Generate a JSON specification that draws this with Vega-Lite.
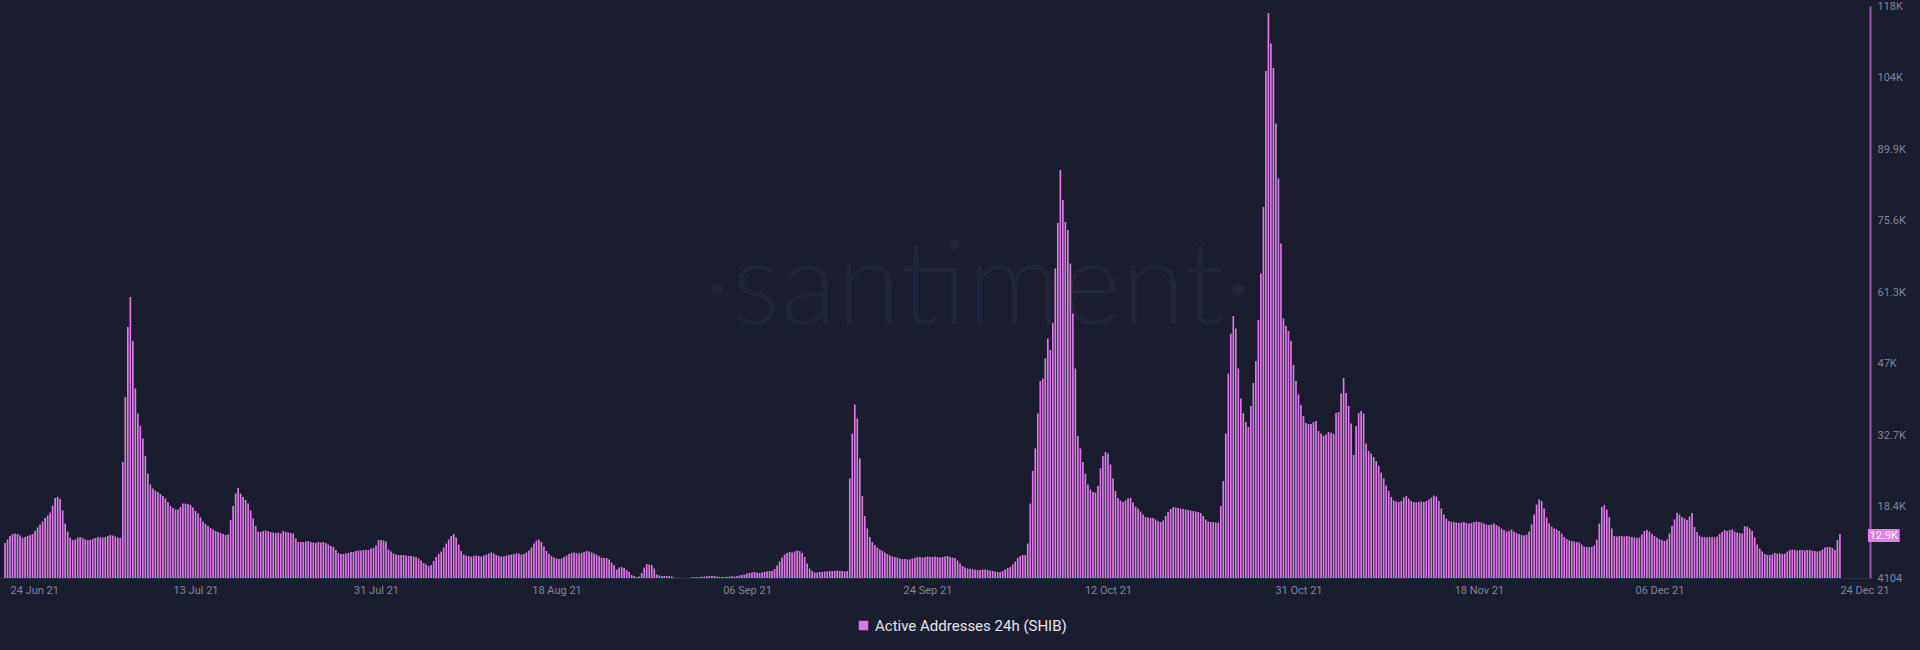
{
"$schema": "https://vega.github.io/schema/vega-lite/v6.json",
"width": 1870,
"height": 572,
"autosize": "none",
"padding": {"left": 0, "top": 6, "right": 50, "bottom": 72},
"background": "#1a1d2d",
"config": {"view": {"stroke": null}, "font": "Roboto"},
"data": {"values": [
{"t":"2021-06-24T00:00","v":11100},{"t":"2021-06-24T06:00","v":11800},{"t":"2021-06-24T12:00","v":12500},{"t":"2021-06-24T18:00","v":12900},
{"t":"2021-06-25T00:00","v":13000},{"t":"2021-06-25T06:00","v":12900},{"t":"2021-06-25T12:00","v":12600},{"t":"2021-06-25T18:00","v":12100},
{"t":"2021-06-26T00:00","v":12300},{"t":"2021-06-26T06:00","v":12500},{"t":"2021-06-26T12:00","v":12700},{"t":"2021-06-26T18:00","v":12900},
{"t":"2021-06-27T00:00","v":13500},{"t":"2021-06-27T06:00","v":14200},{"t":"2021-06-27T12:00","v":14800},{"t":"2021-06-27T18:00","v":15400},
{"t":"2021-06-28T00:00","v":16100},{"t":"2021-06-28T06:00","v":16600},{"t":"2021-06-28T12:00","v":17200},{"t":"2021-06-28T18:00","v":18600},
{"t":"2021-06-29T00:00","v":20100},{"t":"2021-06-29T06:00","v":20300},{"t":"2021-06-29T12:00","v":19900},{"t":"2021-06-29T18:00","v":17600},
{"t":"2021-06-30T00:00","v":15000},{"t":"2021-06-30T06:00","v":13400},{"t":"2021-06-30T12:00","v":12200},{"t":"2021-06-30T18:00","v":11700},
{"t":"2021-07-01T00:00","v":11800},{"t":"2021-07-01T06:00","v":12200},{"t":"2021-07-01T12:00","v":12300},{"t":"2021-07-01T18:00","v":12100},
{"t":"2021-07-02T00:00","v":11800},{"t":"2021-07-02T06:00","v":11700},{"t":"2021-07-02T12:00","v":11700},{"t":"2021-07-02T18:00","v":11900},
{"t":"2021-07-03T00:00","v":12100},{"t":"2021-07-03T06:00","v":12300},{"t":"2021-07-03T12:00","v":12200},{"t":"2021-07-03T18:00","v":12200},
{"t":"2021-07-04T00:00","v":12300},{"t":"2021-07-04T06:00","v":12500},{"t":"2021-07-04T12:00","v":12700},{"t":"2021-07-04T18:00","v":12600},
{"t":"2021-07-05T00:00","v":12400},{"t":"2021-07-05T06:00","v":12200},{"t":"2021-07-05T12:00","v":12100},{"t":"2021-07-05T18:00","v":27300},
{"t":"2021-07-06T00:00","v":40300},{"t":"2021-07-06T06:00","v":54300},{"t":"2021-07-06T12:00","v":60300},{"t":"2021-07-06T18:00","v":51500},
{"t":"2021-07-07T00:00","v":42000},{"t":"2021-07-07T06:00","v":37000},{"t":"2021-07-07T12:00","v":34500},{"t":"2021-07-07T18:00","v":32000},
{"t":"2021-07-08T00:00","v":28500},{"t":"2021-07-08T06:00","v":25000},{"t":"2021-07-08T12:00","v":22800},{"t":"2021-07-08T18:00","v":22000},
{"t":"2021-07-09T00:00","v":21600},{"t":"2021-07-09T06:00","v":21300},{"t":"2021-07-09T12:00","v":20900},{"t":"2021-07-09T18:00","v":20500},
{"t":"2021-07-10T00:00","v":20000},{"t":"2021-07-10T06:00","v":19300},{"t":"2021-07-10T12:00","v":18500},{"t":"2021-07-10T18:00","v":18100},
{"t":"2021-07-11T00:00","v":17800},{"t":"2021-07-11T06:00","v":17800},{"t":"2021-07-11T12:00","v":18300},{"t":"2021-07-11T18:00","v":19000},
{"t":"2021-07-12T00:00","v":19000},{"t":"2021-07-12T06:00","v":18900},{"t":"2021-07-12T12:00","v":18700},{"t":"2021-07-12T18:00","v":18200},
{"t":"2021-07-13T00:00","v":17500},{"t":"2021-07-13T06:00","v":17000},{"t":"2021-07-13T12:00","v":16200},{"t":"2021-07-13T18:00","v":15400},
{"t":"2021-07-14T00:00","v":14900},{"t":"2021-07-14T06:00","v":14500},{"t":"2021-07-14T12:00","v":14100},{"t":"2021-07-14T18:00","v":13800},
{"t":"2021-07-15T00:00","v":13500},{"t":"2021-07-15T06:00","v":13300},{"t":"2021-07-15T12:00","v":13100},{"t":"2021-07-15T18:00","v":12900},
{"t":"2021-07-16T00:00","v":12700},{"t":"2021-07-16T06:00","v":12800},{"t":"2021-07-16T12:00","v":15700},{"t":"2021-07-16T18:00","v":18500},
{"t":"2021-07-17T00:00","v":21000},{"t":"2021-07-17T06:00","v":22100},{"t":"2021-07-17T12:00","v":21000},{"t":"2021-07-17T18:00","v":20300},
{"t":"2021-07-18T00:00","v":19700},{"t":"2021-07-18T06:00","v":19000},{"t":"2021-07-18T12:00","v":17600},{"t":"2021-07-18T18:00","v":16000},
{"t":"2021-07-19T00:00","v":14500},{"t":"2021-07-19T06:00","v":13400},{"t":"2021-07-19T12:00","v":13300},{"t":"2021-07-19T18:00","v":13500},
{"t":"2021-07-20T00:00","v":13600},{"t":"2021-07-20T06:00","v":13500},{"t":"2021-07-20T12:00","v":13300},{"t":"2021-07-20T18:00","v":13200},
{"t":"2021-07-21T00:00","v":13100},{"t":"2021-07-21T06:00","v":13200},{"t":"2021-07-21T12:00","v":13000},{"t":"2021-07-21T18:00","v":13500},
{"t":"2021-07-22T00:00","v":13300},{"t":"2021-07-22T06:00","v":13200},{"t":"2021-07-22T12:00","v":13100},{"t":"2021-07-22T18:00","v":13000},
{"t":"2021-07-23T00:00","v":12000},{"t":"2021-07-23T06:00","v":11300},{"t":"2021-07-23T12:00","v":11300},{"t":"2021-07-23T18:00","v":11300},
{"t":"2021-07-24T00:00","v":11400},{"t":"2021-07-24T06:00","v":11500},{"t":"2021-07-24T12:00","v":11300},{"t":"2021-07-24T18:00","v":11200},
{"t":"2021-07-25T00:00","v":11100},{"t":"2021-07-25T06:00","v":11300},{"t":"2021-07-25T12:00","v":11200},{"t":"2021-07-25T18:00","v":11300},
{"t":"2021-07-26T00:00","v":11100},{"t":"2021-07-26T06:00","v":10800},{"t":"2021-07-26T12:00","v":10500},{"t":"2021-07-26T18:00","v":10300},
{"t":"2021-07-27T00:00","v":9700},{"t":"2021-07-27T06:00","v":9100},{"t":"2021-07-27T12:00","v":8900},{"t":"2021-07-27T18:00","v":8900},
{"t":"2021-07-28T00:00","v":9000},{"t":"2021-07-28T06:00","v":9100},{"t":"2021-07-28T12:00","v":9300},{"t":"2021-07-28T18:00","v":9300},
{"t":"2021-07-29T00:00","v":9500},{"t":"2021-07-29T06:00","v":9600},{"t":"2021-07-29T12:00","v":9600},{"t":"2021-07-29T18:00","v":9700},
{"t":"2021-07-30T00:00","v":9700},{"t":"2021-07-30T06:00","v":9700},{"t":"2021-07-30T12:00","v":10000},{"t":"2021-07-30T18:00","v":10100},
{"t":"2021-07-31T00:00","v":10600},{"t":"2021-07-31T06:00","v":11700},{"t":"2021-07-31T12:00","v":11700},{"t":"2021-07-31T18:00","v":11600},
{"t":"2021-08-01T00:00","v":11400},{"t":"2021-08-01T06:00","v":9800},{"t":"2021-08-01T12:00","v":9400},{"t":"2021-08-01T18:00","v":9000},
{"t":"2021-08-02T00:00","v":8800},{"t":"2021-08-02T06:00","v":8700},{"t":"2021-08-02T12:00","v":8700},{"t":"2021-08-02T18:00","v":8700},
{"t":"2021-08-03T00:00","v":8600},{"t":"2021-08-03T06:00","v":8500},{"t":"2021-08-03T12:00","v":8500},{"t":"2021-08-03T18:00","v":8400},
{"t":"2021-08-04T00:00","v":8300},{"t":"2021-08-04T06:00","v":8000},{"t":"2021-08-04T12:00","v":7600},{"t":"2021-08-04T18:00","v":7100},
{"t":"2021-08-05T00:00","v":6800},{"t":"2021-08-05T06:00","v":6500},{"t":"2021-08-05T12:00","v":6700},{"t":"2021-08-05T18:00","v":7500},
{"t":"2021-08-06T00:00","v":8300},{"t":"2021-08-06T06:00","v":8900},{"t":"2021-08-06T12:00","v":9400},{"t":"2021-08-06T18:00","v":10200},
{"t":"2021-08-07T00:00","v":11000},{"t":"2021-08-07T06:00","v":11800},{"t":"2021-08-07T12:00","v":12500},{"t":"2021-08-07T18:00","v":12900},
{"t":"2021-08-08T00:00","v":12200},{"t":"2021-08-08T06:00","v":10800},{"t":"2021-08-08T12:00","v":9500},{"t":"2021-08-08T18:00","v":8800},
{"t":"2021-08-09T00:00","v":8600},{"t":"2021-08-09T06:00","v":8500},{"t":"2021-08-09T12:00","v":8400},{"t":"2021-08-09T18:00","v":8500},
{"t":"2021-08-10T00:00","v":8600},{"t":"2021-08-10T06:00","v":8500},{"t":"2021-08-10T12:00","v":8400},{"t":"2021-08-10T18:00","v":8600},
{"t":"2021-08-11T00:00","v":8800},{"t":"2021-08-11T06:00","v":9000},{"t":"2021-08-11T12:00","v":9200},{"t":"2021-08-11T18:00","v":9000},
{"t":"2021-08-12T00:00","v":8700},{"t":"2021-08-12T06:00","v":8500},{"t":"2021-08-12T12:00","v":8400},{"t":"2021-08-12T18:00","v":8400},
{"t":"2021-08-13T00:00","v":8600},{"t":"2021-08-13T06:00","v":8700},{"t":"2021-08-13T12:00","v":8800},{"t":"2021-08-13T18:00","v":8900},
{"t":"2021-08-14T00:00","v":9000},{"t":"2021-08-14T06:00","v":9000},{"t":"2021-08-14T12:00","v":8800},{"t":"2021-08-14T18:00","v":8900},
{"t":"2021-08-15T00:00","v":9200},{"t":"2021-08-15T06:00","v":9600},{"t":"2021-08-15T12:00","v":10200},{"t":"2021-08-15T18:00","v":11000},
{"t":"2021-08-16T00:00","v":11600},{"t":"2021-08-16T06:00","v":11800},{"t":"2021-08-16T12:00","v":11300},{"t":"2021-08-16T18:00","v":10400},
{"t":"2021-08-17T00:00","v":9500},{"t":"2021-08-17T06:00","v":8900},{"t":"2021-08-17T12:00","v":8500},{"t":"2021-08-17T18:00","v":8200},
{"t":"2021-08-18T00:00","v":8000},{"t":"2021-08-18T06:00","v":7900},{"t":"2021-08-18T12:00","v":8000},{"t":"2021-08-18T18:00","v":8300},
{"t":"2021-08-19T00:00","v":8600},{"t":"2021-08-19T06:00","v":8900},{"t":"2021-08-19T12:00","v":9100},{"t":"2021-08-19T18:00","v":9200},
{"t":"2021-08-20T00:00","v":9100},{"t":"2021-08-20T06:00","v":9000},{"t":"2021-08-20T12:00","v":9100},{"t":"2021-08-20T18:00","v":9300},
{"t":"2021-08-21T00:00","v":9500},{"t":"2021-08-21T06:00","v":9400},{"t":"2021-08-21T12:00","v":9200},{"t":"2021-08-21T18:00","v":9000},
{"t":"2021-08-22T00:00","v":8800},{"t":"2021-08-22T06:00","v":8500},{"t":"2021-08-22T12:00","v":8200},{"t":"2021-08-22T18:00","v":8100},
{"t":"2021-08-23T00:00","v":8100},{"t":"2021-08-23T06:00","v":7800},{"t":"2021-08-23T12:00","v":7200},{"t":"2021-08-23T18:00","v":6700},
{"t":"2021-08-24T00:00","v":5800},{"t":"2021-08-24T06:00","v":6200},{"t":"2021-08-24T12:00","v":6300},{"t":"2021-08-24T18:00","v":6100},
{"t":"2021-08-25T00:00","v":5700},{"t":"2021-08-25T06:00","v":5300},{"t":"2021-08-25T12:00","v":4700},{"t":"2021-08-25T18:00","v":4500},
{"t":"2021-08-26T00:00","v":4300},{"t":"2021-08-26T06:00","v":4400},{"t":"2021-08-26T12:00","v":5100},{"t":"2021-08-26T18:00","v":6200},
{"t":"2021-08-27T00:00","v":6900},{"t":"2021-08-27T06:00","v":6800},{"t":"2021-08-27T12:00","v":6700},{"t":"2021-08-27T18:00","v":6000},
{"t":"2021-08-28T00:00","v":4800},{"t":"2021-08-28T06:00","v":4600},{"t":"2021-08-28T12:00","v":4500},{"t":"2021-08-28T18:00","v":4500},
{"t":"2021-08-29T00:00","v":4500},{"t":"2021-08-29T06:00","v":4500},{"t":"2021-08-29T12:00","v":4400},{"t":"2021-08-29T18:00","v":4200},
{"t":"2021-08-30T00:00","v":4150},{"t":"2021-08-30T06:00","v":4150},{"t":"2021-08-30T12:00","v":4120},{"t":"2021-08-30T18:00","v":4110},
{"t":"2021-08-31T00:00","v":4120},{"t":"2021-08-31T06:00","v":4150},{"t":"2021-08-31T12:00","v":4250},{"t":"2021-08-31T18:00","v":4300},
{"t":"2021-09-01T00:00","v":4250},{"t":"2021-09-01T06:00","v":4300},{"t":"2021-09-01T12:00","v":4350},{"t":"2021-09-01T18:00","v":4400},
{"t":"2021-09-02T00:00","v":4450},{"t":"2021-09-02T06:00","v":4500},{"t":"2021-09-02T12:00","v":4550},{"t":"2021-09-02T18:00","v":4500},
{"t":"2021-09-03T00:00","v":4400},{"t":"2021-09-03T06:00","v":4350},{"t":"2021-09-03T12:00","v":4300},{"t":"2021-09-03T18:00","v":4300},
{"t":"2021-09-04T00:00","v":4350},{"t":"2021-09-04T06:00","v":4400},{"t":"2021-09-04T12:00","v":4450},{"t":"2021-09-04T18:00","v":4400},
{"t":"2021-09-05T00:00","v":4500},{"t":"2021-09-05T06:00","v":4600},{"t":"2021-09-05T12:00","v":4700},{"t":"2021-09-05T18:00","v":4800},
{"t":"2021-09-06T00:00","v":5000},{"t":"2021-09-06T06:00","v":5100},{"t":"2021-09-06T12:00","v":5200},{"t":"2021-09-06T18:00","v":5300},
{"t":"2021-09-07T00:00","v":5200},{"t":"2021-09-07T06:00","v":5100},{"t":"2021-09-07T12:00","v":5200},{"t":"2021-09-07T18:00","v":5300},
{"t":"2021-09-08T00:00","v":5400},{"t":"2021-09-08T06:00","v":5500},{"t":"2021-09-08T12:00","v":5500},{"t":"2021-09-08T18:00","v":5900},
{"t":"2021-09-09T00:00","v":6600},{"t":"2021-09-09T06:00","v":7400},{"t":"2021-09-09T12:00","v":8200},{"t":"2021-09-09T18:00","v":8800},
{"t":"2021-09-10T00:00","v":9100},{"t":"2021-09-10T06:00","v":9300},{"t":"2021-09-10T12:00","v":9200},{"t":"2021-09-10T18:00","v":9400},
{"t":"2021-09-11T00:00","v":9600},{"t":"2021-09-11T06:00","v":9500},{"t":"2021-09-11T12:00","v":9100},{"t":"2021-09-11T18:00","v":8300},
{"t":"2021-09-12T00:00","v":7000},{"t":"2021-09-12T06:00","v":6000},{"t":"2021-09-12T12:00","v":5500},{"t":"2021-09-12T18:00","v":5200},
{"t":"2021-09-13T00:00","v":5200},{"t":"2021-09-13T06:00","v":5300},{"t":"2021-09-13T12:00","v":5300},{"t":"2021-09-13T18:00","v":5400},
{"t":"2021-09-14T00:00","v":5400},{"t":"2021-09-14T06:00","v":5500},{"t":"2021-09-14T12:00","v":5500},{"t":"2021-09-14T18:00","v":5500},
{"t":"2021-09-15T00:00","v":5600},{"t":"2021-09-15T06:00","v":5500},{"t":"2021-09-15T12:00","v":5500},{"t":"2021-09-15T18:00","v":5400},
{"t":"2021-09-16T00:00","v":5500},{"t":"2021-09-16T06:00","v":24000},{"t":"2021-09-16T12:00","v":33000},{"t":"2021-09-16T18:00","v":38800},
{"t":"2021-09-17T00:00","v":36000},{"t":"2021-09-17T06:00","v":28000},{"t":"2021-09-17T12:00","v":20500},{"t":"2021-09-17T18:00","v":16500},
{"t":"2021-09-18T00:00","v":14000},{"t":"2021-09-18T06:00","v":12300},{"t":"2021-09-18T12:00","v":11300},{"t":"2021-09-18T18:00","v":10700},
{"t":"2021-09-19T00:00","v":10200},{"t":"2021-09-19T06:00","v":9800},{"t":"2021-09-19T12:00","v":9500},{"t":"2021-09-19T18:00","v":9200},
{"t":"2021-09-20T00:00","v":8900},{"t":"2021-09-20T06:00","v":8600},{"t":"2021-09-20T12:00","v":8400},{"t":"2021-09-20T18:00","v":8300},
{"t":"2021-09-21T00:00","v":8200},{"t":"2021-09-21T06:00","v":8000},{"t":"2021-09-21T12:00","v":7900},{"t":"2021-09-21T18:00","v":7900},
{"t":"2021-09-22T00:00","v":7800},{"t":"2021-09-22T06:00","v":7800},{"t":"2021-09-22T12:00","v":8000},{"t":"2021-09-22T18:00","v":8100},
{"t":"2021-09-23T00:00","v":8300},{"t":"2021-09-23T06:00","v":8300},{"t":"2021-09-23T12:00","v":8200},{"t":"2021-09-23T18:00","v":8300},
{"t":"2021-09-24T00:00","v":8400},{"t":"2021-09-24T06:00","v":8300},{"t":"2021-09-24T12:00","v":8300},{"t":"2021-09-24T18:00","v":8400},
{"t":"2021-09-25T00:00","v":8300},{"t":"2021-09-25T06:00","v":8200},{"t":"2021-09-25T12:00","v":8300},{"t":"2021-09-25T18:00","v":8400},
{"t":"2021-09-26T00:00","v":8500},{"t":"2021-09-26T06:00","v":8300},{"t":"2021-09-26T12:00","v":8200},{"t":"2021-09-26T18:00","v":8100},
{"t":"2021-09-27T00:00","v":7600},{"t":"2021-09-27T06:00","v":7000},{"t":"2021-09-27T12:00","v":6500},{"t":"2021-09-27T18:00","v":6200},
{"t":"2021-09-28T00:00","v":6000},{"t":"2021-09-28T06:00","v":5900},{"t":"2021-09-28T12:00","v":5800},{"t":"2021-09-28T18:00","v":5800},
{"t":"2021-09-29T00:00","v":5700},{"t":"2021-09-29T06:00","v":5700},{"t":"2021-09-29T12:00","v":5800},{"t":"2021-09-29T18:00","v":5800},
{"t":"2021-09-30T00:00","v":5700},{"t":"2021-09-30T06:00","v":5600},{"t":"2021-09-30T12:00","v":5500},{"t":"2021-09-30T18:00","v":5400},
{"t":"2021-10-01T00:00","v":5300},{"t":"2021-10-01T06:00","v":5300},{"t":"2021-10-01T12:00","v":5500},{"t":"2021-10-01T18:00","v":5800},
{"t":"2021-10-02T00:00","v":6100},{"t":"2021-10-02T06:00","v":6300},{"t":"2021-10-02T12:00","v":6800},{"t":"2021-10-02T18:00","v":7400},
{"t":"2021-10-03T00:00","v":8100},{"t":"2021-10-03T06:00","v":8500},{"t":"2021-10-03T12:00","v":8700},{"t":"2021-10-03T18:00","v":8700},
{"t":"2021-10-04T00:00","v":11000},{"t":"2021-10-04T06:00","v":19000},{"t":"2021-10-04T12:00","v":25500},{"t":"2021-10-04T18:00","v":30000},
{"t":"2021-10-05T00:00","v":37000},{"t":"2021-10-05T06:00","v":43500},{"t":"2021-10-05T12:00","v":44000},{"t":"2021-10-05T18:00","v":48000},
{"t":"2021-10-06T00:00","v":52000},{"t":"2021-10-06T06:00","v":49700},{"t":"2021-10-06T12:00","v":55100},{"t":"2021-10-06T18:00","v":66000},
{"t":"2021-10-07T00:00","v":75100},{"t":"2021-10-07T06:00","v":85700},{"t":"2021-10-07T12:00","v":79700},{"t":"2021-10-07T18:00","v":75300},
{"t":"2021-10-08T00:00","v":73700},{"t":"2021-10-08T06:00","v":67000},{"t":"2021-10-08T12:00","v":57000},{"t":"2021-10-08T18:00","v":46000},
{"t":"2021-10-09T00:00","v":32500},{"t":"2021-10-09T06:00","v":30000},{"t":"2021-10-09T12:00","v":27300},{"t":"2021-10-09T18:00","v":25000},
{"t":"2021-10-10T00:00","v":22800},{"t":"2021-10-10T06:00","v":21800},{"t":"2021-10-10T12:00","v":21300},{"t":"2021-10-10T18:00","v":21200},
{"t":"2021-10-11T00:00","v":22500},{"t":"2021-10-11T06:00","v":26000},{"t":"2021-10-11T12:00","v":28500},{"t":"2021-10-11T18:00","v":29300},
{"t":"2021-10-12T00:00","v":29000},{"t":"2021-10-12T06:00","v":26800},{"t":"2021-10-12T12:00","v":24000},{"t":"2021-10-12T18:00","v":21500},
{"t":"2021-10-13T00:00","v":20100},{"t":"2021-10-13T06:00","v":19600},{"t":"2021-10-13T12:00","v":19300},{"t":"2021-10-13T18:00","v":19600},
{"t":"2021-10-14T00:00","v":20000},{"t":"2021-10-14T06:00","v":20100},{"t":"2021-10-14T12:00","v":19200},{"t":"2021-10-14T18:00","v":18400},
{"t":"2021-10-15T00:00","v":18000},{"t":"2021-10-15T06:00","v":17400},{"t":"2021-10-15T12:00","v":16800},{"t":"2021-10-15T18:00","v":16300},
{"t":"2021-10-16T00:00","v":16200},{"t":"2021-10-16T06:00","v":16100},{"t":"2021-10-16T12:00","v":16100},{"t":"2021-10-16T18:00","v":15800},
{"t":"2021-10-17T00:00","v":15500},{"t":"2021-10-17T06:00","v":15300},{"t":"2021-10-17T12:00","v":15600},{"t":"2021-10-17T18:00","v":16500},
{"t":"2021-10-18T00:00","v":17300},{"t":"2021-10-18T06:00","v":17900},{"t":"2021-10-18T12:00","v":18300},{"t":"2021-10-18T18:00","v":18200},
{"t":"2021-10-19T00:00","v":18100},{"t":"2021-10-19T06:00","v":18000},{"t":"2021-10-19T12:00","v":17900},{"t":"2021-10-19T18:00","v":17800},
{"t":"2021-10-20T00:00","v":17700},{"t":"2021-10-20T06:00","v":17600},{"t":"2021-10-20T12:00","v":17500},{"t":"2021-10-20T18:00","v":17400},
{"t":"2021-10-21T00:00","v":17300},{"t":"2021-10-21T06:00","v":17100},{"t":"2021-10-21T12:00","v":16500},{"t":"2021-10-21T18:00","v":15800},
{"t":"2021-10-22T00:00","v":15400},{"t":"2021-10-22T06:00","v":15300},{"t":"2021-10-22T12:00","v":15300},{"t":"2021-10-22T18:00","v":15200},
{"t":"2021-10-23T00:00","v":15200},{"t":"2021-10-23T06:00","v":18500},{"t":"2021-10-23T12:00","v":23500},{"t":"2021-10-23T18:00","v":33000},
{"t":"2021-10-24T00:00","v":45000},{"t":"2021-10-24T06:00","v":53000},{"t":"2021-10-24T12:00","v":56500},{"t":"2021-10-24T18:00","v":54000},
{"t":"2021-10-25T00:00","v":46000},{"t":"2021-10-25T06:00","v":40000},{"t":"2021-10-25T12:00","v":37100},{"t":"2021-10-25T18:00","v":35300},
{"t":"2021-10-26T00:00","v":34300},{"t":"2021-10-26T06:00","v":38500},{"t":"2021-10-26T12:00","v":43100},{"t":"2021-10-26T18:00","v":47500},
{"t":"2021-10-27T00:00","v":55700},{"t":"2021-10-27T06:00","v":65000},{"t":"2021-10-27T12:00","v":78300},{"t":"2021-10-27T18:00","v":105500},
{"t":"2021-10-28T00:00","v":117100},{"t":"2021-10-28T06:00","v":111000},{"t":"2021-10-28T12:00","v":106100},{"t":"2021-10-28T18:00","v":95000},
{"t":"2021-10-29T00:00","v":84000},{"t":"2021-10-29T06:00","v":71000},{"t":"2021-10-29T12:00","v":56000},{"t":"2021-10-29T18:00","v":54500},
{"t":"2021-10-30T00:00","v":53500},{"t":"2021-10-30T06:00","v":51500},{"t":"2021-10-30T12:00","v":46700},{"t":"2021-10-30T18:00","v":43500},
{"t":"2021-10-31T00:00","v":40800},{"t":"2021-10-31T06:00","v":38700},{"t":"2021-10-31T12:00","v":36500},{"t":"2021-10-31T18:00","v":35100},
{"t":"2021-11-01T00:00","v":34900},{"t":"2021-11-01T06:00","v":34900},{"t":"2021-11-01T12:00","v":35300},{"t":"2021-11-01T18:00","v":35500},
{"t":"2021-11-02T00:00","v":33500},{"t":"2021-11-02T06:00","v":33000},{"t":"2021-11-02T12:00","v":32500},{"t":"2021-11-02T18:00","v":32800},
{"t":"2021-11-03T00:00","v":33300},{"t":"2021-11-03T06:00","v":33100},{"t":"2021-11-03T12:00","v":32900},{"t":"2021-11-03T18:00","v":37100},
{"t":"2021-11-04T00:00","v":37300},{"t":"2021-11-04T06:00","v":41000},{"t":"2021-11-04T12:00","v":44100},{"t":"2021-11-04T18:00","v":41100},
{"t":"2021-11-05T00:00","v":38500},{"t":"2021-11-05T06:00","v":35000},{"t":"2021-11-05T12:00","v":28700},{"t":"2021-11-05T18:00","v":34500},
{"t":"2021-11-06T00:00","v":37100},{"t":"2021-11-06T06:00","v":37500},{"t":"2021-11-06T12:00","v":37000},{"t":"2021-11-06T18:00","v":31000},
{"t":"2021-11-07T00:00","v":29500},{"t":"2021-11-07T06:00","v":29000},{"t":"2021-11-07T12:00","v":28300},{"t":"2021-11-07T18:00","v":27500},
{"t":"2021-11-08T00:00","v":26500},{"t":"2021-11-08T06:00","v":25200},{"t":"2021-11-08T12:00","v":24000},{"t":"2021-11-08T18:00","v":22600},
{"t":"2021-11-09T00:00","v":21500},{"t":"2021-11-09T06:00","v":20300},{"t":"2021-11-09T12:00","v":19600},{"t":"2021-11-09T18:00","v":19400},
{"t":"2021-11-10T00:00","v":19300},{"t":"2021-11-10T06:00","v":19500},{"t":"2021-11-10T12:00","v":20200},{"t":"2021-11-10T18:00","v":20500},
{"t":"2021-11-11T00:00","v":20000},{"t":"2021-11-11T06:00","v":19500},{"t":"2021-11-11T12:00","v":19300},{"t":"2021-11-11T18:00","v":19200},
{"t":"2021-11-12T00:00","v":19300},{"t":"2021-11-12T06:00","v":19400},{"t":"2021-11-12T12:00","v":19300},{"t":"2021-11-12T18:00","v":19500},
{"t":"2021-11-13T00:00","v":19800},{"t":"2021-11-13T06:00","v":20200},{"t":"2021-11-13T12:00","v":20600},{"t":"2021-11-13T18:00","v":20400},
{"t":"2021-11-14T00:00","v":19500},{"t":"2021-11-14T06:00","v":18000},{"t":"2021-11-14T12:00","v":16800},{"t":"2021-11-14T18:00","v":16000},
{"t":"2021-11-15T00:00","v":15500},{"t":"2021-11-15T06:00","v":15300},{"t":"2021-11-15T12:00","v":15300},{"t":"2021-11-15T18:00","v":15200},
{"t":"2021-11-16T00:00","v":15100},{"t":"2021-11-16T06:00","v":15200},{"t":"2021-11-16T12:00","v":15300},{"t":"2021-11-16T18:00","v":15100},
{"t":"2021-11-17T00:00","v":15000},{"t":"2021-11-17T06:00","v":15100},{"t":"2021-11-17T12:00","v":15300},{"t":"2021-11-17T18:00","v":15400},
{"t":"2021-11-18T00:00","v":15300},{"t":"2021-11-18T06:00","v":15200},{"t":"2021-11-18T12:00","v":15000},{"t":"2021-11-18T18:00","v":14800},
{"t":"2021-11-19T00:00","v":14700},{"t":"2021-11-19T06:00","v":14800},{"t":"2021-11-19T12:00","v":15000},{"t":"2021-11-19T18:00","v":14700},
{"t":"2021-11-20T00:00","v":14400},{"t":"2021-11-20T06:00","v":14000},{"t":"2021-11-20T12:00","v":13700},{"t":"2021-11-20T18:00","v":13400},
{"t":"2021-11-21T00:00","v":13500},{"t":"2021-11-21T06:00","v":13800},{"t":"2021-11-21T12:00","v":13400},{"t":"2021-11-21T18:00","v":13100},
{"t":"2021-11-22T00:00","v":12900},{"t":"2021-11-22T06:00","v":12700},{"t":"2021-11-22T12:00","v":12600},{"t":"2021-11-22T18:00","v":12800},
{"t":"2021-11-23T00:00","v":13400},{"t":"2021-11-23T06:00","v":14800},{"t":"2021-11-23T12:00","v":16800},{"t":"2021-11-23T18:00","v":18800},
{"t":"2021-11-24T00:00","v":19800},{"t":"2021-11-24T06:00","v":19500},{"t":"2021-11-24T12:00","v":18000},{"t":"2021-11-24T18:00","v":16200},
{"t":"2021-11-25T00:00","v":15000},{"t":"2021-11-25T06:00","v":14400},{"t":"2021-11-25T12:00","v":14000},{"t":"2021-11-25T18:00","v":13800},
{"t":"2021-11-26T00:00","v":13500},{"t":"2021-11-26T06:00","v":13000},{"t":"2021-11-26T12:00","v":12300},{"t":"2021-11-26T18:00","v":11900},
{"t":"2021-11-27T00:00","v":11600},{"t":"2021-11-27T06:00","v":11500},{"t":"2021-11-27T12:00","v":11400},{"t":"2021-11-27T18:00","v":11300},
{"t":"2021-11-28T00:00","v":11200},{"t":"2021-11-28T06:00","v":10800},{"t":"2021-11-28T12:00","v":10400},{"t":"2021-11-28T18:00","v":10300},
{"t":"2021-11-29T00:00","v":10300},{"t":"2021-11-29T06:00","v":10300},{"t":"2021-11-29T12:00","v":10600},{"t":"2021-11-29T18:00","v":11800},
{"t":"2021-11-30T00:00","v":15000},{"t":"2021-11-30T06:00","v":18300},{"t":"2021-11-30T12:00","v":18700},{"t":"2021-11-30T18:00","v":17800},
{"t":"2021-12-01T00:00","v":16300},{"t":"2021-12-01T06:00","v":14000},{"t":"2021-12-01T12:00","v":12500},{"t":"2021-12-01T18:00","v":12400},
{"t":"2021-12-02T00:00","v":12500},{"t":"2021-12-02T06:00","v":12500},{"t":"2021-12-02T12:00","v":12400},{"t":"2021-12-02T18:00","v":12500},
{"t":"2021-12-03T00:00","v":12400},{"t":"2021-12-03T06:00","v":12300},{"t":"2021-12-03T12:00","v":12200},{"t":"2021-12-03T18:00","v":12100},
{"t":"2021-12-04T00:00","v":12200},{"t":"2021-12-04T06:00","v":12800},{"t":"2021-12-04T12:00","v":13500},{"t":"2021-12-04T18:00","v":13700},
{"t":"2021-12-05T00:00","v":13400},{"t":"2021-12-05T06:00","v":12900},{"t":"2021-12-05T12:00","v":12500},{"t":"2021-12-05T18:00","v":12200},
{"t":"2021-12-06T00:00","v":11900},{"t":"2021-12-06T06:00","v":11700},{"t":"2021-12-06T12:00","v":11500},{"t":"2021-12-06T18:00","v":11800},
{"t":"2021-12-07T00:00","v":13000},{"t":"2021-12-07T06:00","v":14500},{"t":"2021-12-07T12:00","v":15800},{"t":"2021-12-07T18:00","v":17100},
{"t":"2021-12-08T00:00","v":16800},{"t":"2021-12-08T06:00","v":16300},{"t":"2021-12-08T12:00","v":16000},{"t":"2021-12-08T18:00","v":15700},
{"t":"2021-12-09T00:00","v":16400},{"t":"2021-12-09T06:00","v":17100},{"t":"2021-12-09T12:00","v":14300},{"t":"2021-12-09T18:00","v":13300},
{"t":"2021-12-10T00:00","v":12600},{"t":"2021-12-10T06:00","v":12300},{"t":"2021-12-10T12:00","v":12300},{"t":"2021-12-10T18:00","v":12200},
{"t":"2021-12-11T00:00","v":12300},{"t":"2021-12-11T06:00","v":12300},{"t":"2021-12-11T12:00","v":12200},{"t":"2021-12-11T18:00","v":12400},
{"t":"2021-12-12T00:00","v":12900},{"t":"2021-12-12T06:00","v":13300},{"t":"2021-12-12T12:00","v":13700},{"t":"2021-12-12T18:00","v":13500},
{"t":"2021-12-13T00:00","v":13700},{"t":"2021-12-13T06:00","v":13800},{"t":"2021-12-13T12:00","v":13400},{"t":"2021-12-13T18:00","v":13200},
{"t":"2021-12-14T00:00","v":13100},{"t":"2021-12-14T06:00","v":13000},{"t":"2021-12-14T12:00","v":14500},{"t":"2021-12-14T18:00","v":14400},
{"t":"2021-12-15T00:00","v":14000},{"t":"2021-12-15T06:00","v":13500},{"t":"2021-12-15T12:00","v":12200},{"t":"2021-12-15T18:00","v":10800},
{"t":"2021-12-16T00:00","v":10000},{"t":"2021-12-16T06:00","v":9400},{"t":"2021-12-16T12:00","v":8900},{"t":"2021-12-16T18:00","v":8700},
{"t":"2021-12-17T00:00","v":8700},{"t":"2021-12-17T06:00","v":8800},{"t":"2021-12-17T12:00","v":9100},{"t":"2021-12-17T18:00","v":9000},
{"t":"2021-12-18T00:00","v":9000},{"t":"2021-12-18T06:00","v":8900},{"t":"2021-12-18T12:00","v":9000},{"t":"2021-12-18T18:00","v":9400},
{"t":"2021-12-19T00:00","v":9700},{"t":"2021-12-19T06:00","v":9800},{"t":"2021-12-19T12:00","v":9700},{"t":"2021-12-19T18:00","v":9600},
{"t":"2021-12-20T00:00","v":9700},{"t":"2021-12-20T06:00","v":9700},{"t":"2021-12-20T12:00","v":9600},{"t":"2021-12-20T18:00","v":9700},
{"t":"2021-12-21T00:00","v":9700},{"t":"2021-12-21T06:00","v":9600},{"t":"2021-12-21T12:00","v":9500},{"t":"2021-12-21T18:00","v":9400},
{"t":"2021-12-22T00:00","v":9500},{"t":"2021-12-22T06:00","v":9800},{"t":"2021-12-22T12:00","v":10200},{"t":"2021-12-22T18:00","v":10300},
{"t":"2021-12-23T00:00","v":10300},{"t":"2021-12-23T06:00","v":10100},{"t":"2021-12-23T12:00","v":9700},{"t":"2021-12-23T18:00","v":11700},
{"t":"2021-12-24T00:00","v":12900}
]},
"layer": [
{
"data": {"values": [{"label": "·santiment·"}]},
"mark": {"type": "text", "fontSize": 116, "font": "Lato", "fontWeight": 300, "color": "#21253a", "align": "center", "baseline": "middle"},
"encoding": {
"text": {"field": "label"},
"x": {"datum": {"year": 2021, "month": 9, "date": 29}, "type": "temporal"},
"y": {"datum": 62000, "type": "quantitative"}
}
},
{
"mark": {"type": "bar", "width": 1.7},
"encoding": {
"x": {"field": "t", "type": "temporal",
"scale": {"domain": [{"year": 2021, "month": 6, "date": 24}, {"year": 2021, "month": 12, "date": 26, "hours": 12}]},
"axis": {"title": null, "values": [{"year": 2021, "month": 6, "date": 24, "hours": 12}, {"year": 2021, "month": 7, "date": 13}, {"year": 2021, "month": 7, "date": 31}, {"year": 2021, "month": 8, "date": 18}, {"year": 2021, "month": 9, "date": 6}, {"year": 2021, "month": 9, "date": 24}, {"year": 2021, "month": 10, "date": 12}, {"year": 2021, "month": 10, "date": 31}, {"year": 2021, "month": 11, "date": 18}, {"year": 2021, "month": 12, "date": 6}, {"year": 2021, "month": 12, "date": 24}],
"format": "%d %b %y", "labelFlush": false, "labelOverlap": false, "ticks": false, "labelPadding": 6, "labelColor": "#80859a", "labelFontSize": 11, "labelFont": "Roboto",
"domainColor": "#2c3044", "gridColor": "#2a2e42", "gridDash": [4, 4],
"gridOpacity": {"condition": {"test": "datum.value < time(datetime(2021,5,25)) || datum.value > time(datetime(2021,11,20))", "value": 0}, "value": 1},
"labelAlign": {"condition": {"test": "datum.value < time(datetime(2021,5,25)) || datum.value > time(datetime(2021,11,20))", "value": "left"}, "value": "center"}}},
"y": {"field": "v", "type": "quantitative",
"scale": {"domain": [4104, 118504], "zero": false, "nice": false},
"axis": {"title": null, "orient": "right", "values": [4104, 18404, 32704, 47004, 61304, 75604, 89904, 104204, 118504],
"labelExpr": "datum.value < 5000 ? '4104' : datum.value > 110000 ? '118K' : format(datum.value / 1000, '.3~r') + 'K'",
"ticks": false, "labelPadding": 7, "labelColor": "#80859a", "labelFontSize": 11, "labelFont": "Roboto",
"domainColor": "#a24fb4", "domainWidth": 2, "gridColor": "#2a2e42", "gridDash": [4, 4]}},
"y2": {"datum": 4104},
"color": {"datum": "Active Addresses 24h (SHIB)", "type": "nominal",
"scale": {"range": ["#dc78e6"]},
"legend": {"title": null, "orient": "none", "legendX": 856, "legendY": 612, "direction": "horizontal", "symbolType": "square", "symbolSize": 90, "symbolStrokeWidth": 0, "labelColor": "#e4e5ec", "labelFontSize": 15, "labelFont": "Roboto", "labelLimit": 500}}
}
},
{
"data": {"values": [{"label": "12.9K"}]},
"mark": {"type": "rect", "color": "#e27df0"},
"encoding": {
"x": {"datum": {"year": 2021, "month": 12, "date": 26, "hours": 19}, "type": "temporal"},
"x2": {"datum": {"year": 2021, "month": 12, "date": 29, "hours": 23}},
"y": {"datum": 13904, "type": "quantitative"},
"y2": {"datum": 11304}
}
},
{
"data": {"values": [{"label": "12.9K"}]},
"mark": {"type": "text", "color": "#ffffff", "fontSize": 11, "font": "Roboto", "align": "center", "baseline": "middle"},
"encoding": {
"text": {"field": "label"},
"x": {"datum": {"year": 2021, "month": 12, "date": 28, "hours": 9}, "type": "temporal"},
"y": {"datum": 12604, "type": "quantitative"}
}
}
]
}
